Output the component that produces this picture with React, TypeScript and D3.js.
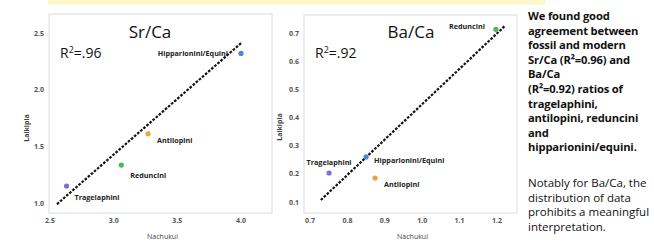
import * as d3 from 'd3';

// tribes in the same order for every array below
const tribes = ['Tragelaphini', 'Reduncini', 'Antilopini', 'Hipparionini/Equini'];
const tribeColors = ['#7a6fd6', '#4cb85c', '#f0a040', '#4f86d9'];

// Sr/Ca panel
const srNachukui = [2.63, 3.06, 3.27, 4.0];
const srLaikipia = [1.15, 1.335, 1.61, 2.32];
const srFitX = [2.555, 4.01];
const srFitY = [0.99, 2.42];
const srTicksX = [2.5, 3.0, 3.5, 4.0];
const srTicksY = [1.0, 1.5, 2.0, 2.5];

// Ba/Ca panel
const baNachukui = [0.751, 1.197, 0.874, 0.85];
const baLaikipia = [0.203, 0.713, 0.185, 0.26];
const baFitX = [0.729, 1.221];
const baFitY = [0.107, 0.725];
const baTicksX = [0.7, 0.8, 0.9, 1.0, 1.1, 1.2];
const baTicksY = [0.1, 0.2, 0.3, 0.4, 0.5, 0.6, 0.7];

const paraBold = [
  'We found good',
  'agreement between',
  'fossil and modern',
  'Sr/Ca (R²=0.96) and',
  'Ba/Ca',
  '(R²=0.92) ratios of',
  'tragelaphini,',
  'antilopini, reduncini',
  'and',
  'hipparionini/equini.',
];
const paraNormal = [
  'Notably for Ba/Ca, the',
  'distribution of data',
  'prohibits a meaningful',
  'interpretation.',
];

const width = 654;
const height = 245;
const font = "'Open Sans', 'Liberation Sans', sans-serif";

type LabelPos = { dx: number; dy: number; anchor: string };

function Panel({
  box, xs, ys, xv, yv, fitX, fitY, ticksX, ticksY, fmt, title, r2, titleX, labels, yLabelX,
}: any) {
  const line = d3.line<number>()
    .x((_, i) => xs(fitX[i]))
    .y((_, i) => ys(fitY[i]));
  return (
    <g>
      <rect x={box[0]} y={box[1]} width={box[2] - box[0]} height={box[3] - box[1]}
        fill="#fff" stroke="#dcdcdc" strokeWidth={1} />
      {ticksY.map((t: number) => (
        <text key={'y' + t} x={box[0] - 5} y={ys(t) + 2.5} textAnchor="end"
          fontSize={7} fontWeight={700} fill="#555">{fmt(t)}</text>
      ))}
      {ticksX.map((t: number) => (
        <text key={'x' + t} x={xs(t)} y={223} textAnchor="middle"
          fontSize={7} fontWeight={700} fill="#555">{fmt(t)}</text>
      ))}
      <text x={(box[0] + box[2]) / 2 + 2} y={239} textAnchor="middle" fontSize={7} fill="#444">Nachukui</text>
      <text transform={`translate(${yLabelX},${ys.range()[0] - 75}) rotate(-90)`} textAnchor="middle"
        fontSize={7} fontWeight={700} fill="#444">Laikipia</text>
      <text x={titleX} y={38} textAnchor="middle" fontSize={17} fill="#111">{title}</text>
      <text x={box[0] + 11} y={58} fontSize={14} fill="#111">
        R<tspan dy={-5} fontSize={9}>2</tspan><tspan dy={5}>=.{r2}</tspan>
      </text>
      <path d={line(fitX) || ''} fill="none" stroke="#111" strokeWidth={2.2} strokeDasharray="2.6,1.5" />
      {tribes.map((name, i) => (
        <g key={name}>
          <circle cx={xs(xv[i])} cy={ys(yv[i])} r={2.6} fill={tribeColors[i]} />
          <text x={xs(xv[i]) + labels[i].dx} y={ys(yv[i]) + labels[i].dy}
            textAnchor={labels[i].anchor} fontSize={7.2} fontWeight={700} fill="#222">{name}</text>
        </g>
      ))}
    </g>
  );
}

export default function App() {
  const srX = d3.scaleLinear().domain([2.5, 4.0]).range([50, 241]);
  const srY = d3.scaleLinear().domain([1.0, 2.5]).range([203, 33]);
  const baX = d3.scaleLinear().domain([0.7, 1.2]).range([310, 497]);
  const baY = d3.scaleLinear().domain([0.1, 0.7]).range([202, 33]);

  const srLabels: LabelPos[] = [
    { dx: 8, dy: 13.5, anchor: 'start' },
    { dx: 9, dy: 12.5, anchor: 'start' },
    { dx: 9, dy: 9.5, anchor: 'start' },
    { dx: -13, dy: 2.5, anchor: 'end' },
  ];
  const baLabels: LabelPos[] = [
    { dx: 0, dy: -8, anchor: 'middle' },
    { dx: -11, dy: 0, anchor: 'end' },
    { dx: 9, dy: 8.5, anchor: 'start' },
    { dx: 8, dy: 6.5, anchor: 'start' },
  ];

  return (
    <svg width={width} height={height} style={{ position: 'absolute', left: 0, top: 0, fontFamily: font }}>
      <rect width={width} height={height} fill="#fff" />
      <rect x={48} y={0} width={497} height={5} fill="#fbf8cc" />
      <Panel box={[49, 14, 272, 213]} xs={srX} ys={srY} xv={srNachukui} yv={srLaikipia}
        fitX={srFitX} fitY={srFitY} ticksX={srTicksX} ticksY={srTicksY} fmt={d3.format('.1f')}
        title="Sr/Ca" r2="96" titleX={150} labels={srLabels} yLabelX={29} />
      <Panel box={[304, 15, 517, 213]} xs={baX} ys={baY} xv={baNachukui} yv={baLaikipia}
        fitX={baFitX} fitY={baFitY} ticksX={baTicksX} ticksY={baTicksY} fmt={d3.format('.1f')}
        title="Ba/Ca" r2="92" titleX={411} labels={baLabels} yLabelX={282} />
      {paraBold.map((s, i) => (
        <text key={s} x={528} y={20 + i * 14.6} fontSize={11.2} fontWeight={700} letterSpacing={-0.15} fill="#111">{s}</text>
      ))}
      {paraNormal.map((s, i) => (
        <text key={s} x={528} y={187 + i * 14.6} fontSize={11.5} fill="#111">{s}</text>
      ))}
    </svg>
  );
}
